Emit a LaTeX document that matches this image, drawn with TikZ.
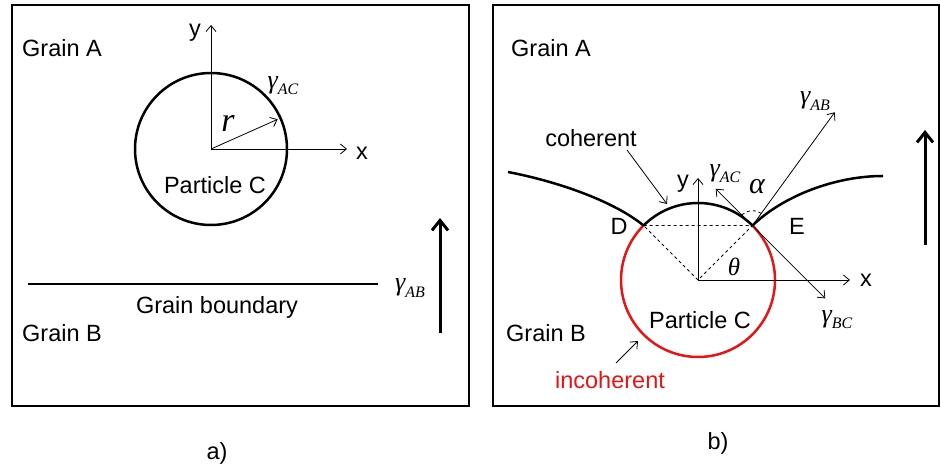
\documentclass[tikz,border=0pt]{standalone}
\usepackage{fontspec}
\setmainfont{Liberation Sans}
\newfontfamily\symfont{Liberation Serif}
\usetikzlibrary{arrows.meta, calc}

\definecolor{incred}{RGB}{230,20,20}

% surface tension label, e.g. \tens{AB}
\newcommand{\tens}[1]{{\symfont\itshape γ}\raisebox{-0.45ex}{\fontsize{16}{16}\selectfont\symfont\itshape #1}}

\tikzset{
  frame/.style={line width=2pt},
  boundary/.style={line width=2.5pt},
  thinarrow/.style={-{Straight Barb[length=6pt,width=10pt]}, line width=0.8pt},
  bigarrow/.style={-{Straight Barb[length=10pt,width=16pt]}, line width=3pt},
  lbl/.style={font=\fontsize{23.5}{27}\selectfont, inner sep=0pt},
  glbl/.style={font=\fontsize{26}{28}\selectfont, inner sep=0pt},
  symlbl/.style={font=\fontsize{#1}{#1}\selectfont\symfont\itshape, inner sep=0pt},
}

\begin{document}
\begin{tikzpicture}[x=1pt, y=1pt]
    \useasboundingbox (0,0) rectangle (941,470);

    % ---- a) ----
    \draw[frame] (12,64) rectangle (469,465);
    \coordinate (Ca) at (211,321);
    \draw[boundary] (Ca) circle (76pt);
    % axes
    \coordinate (ya) at (211,445);
    \coordinate (xa) at (347,321);
    \coordinate (ra) at ([shift={(24:73)}]Ca);
    \draw[thinarrow] (Ca) -- (ya);
    \draw[thinarrow] (Ca) -- (xa);
    \draw[thinarrow] (Ca) -- (ra);
    \node[lbl] (ylaba) at (195,437) {y};
    \node[lbl] (xlaba) at (362,317) {x};
    \node[symlbl=34] (rlab) at (228,347) {r};
    \node[glbl] (gACa) at (283,384) {\tens{AC}};
    \node[lbl] (parta) at (215,285) {Particle C};
    \node[lbl, anchor=west] (grainAa) at (22,422) {Grain A};
    \node[lbl, anchor=west] (grainBa) at (22,137) {Grain B};

    % grain boundary
    \coordinate (gb1) at (28,186);
    \coordinate (gb2) at (378,186);
    \draw[boundary] (gb1) -- (gb2);
    \node[lbl] (gbtxt) at (217,163) {Grain boundary};
    \node[glbl] (gABa) at (410,182) {\tens{AB}};
    \coordinate (ta1) at (440,137);
    \coordinate (ta2) at (440,252);
    \draw[bigarrow] (ta1) -- (ta2);
    \node[lbl] (capa) at (217,17) {a)};

    % ---- b) ----
    \draw[frame] (493,64) rectangle (939,465);
    \coordinate (Cb) at (698,190);
    \coordinate (D) at ([shift={(135:77)}]Cb);
    \coordinate (E) at ([shift={(45:77)}]Cb);
    % incoherent and coherent parts
    \draw[incred, boundary] (E) arc[start angle=45, end angle=-225, radius=77pt];
    \draw[boundary] (E) arc[start angle=45, end angle=135, radius=77pt];
    % curved grain boundary
    \coordinate (gl) at (508,298);
    \coordinate (gr) at (883,294);
    \draw[boundary] (gl) .. controls (560,288) and (615,268) .. (D);
    \draw[boundary] (E) .. controls (783,274) and (835,294) .. (gr);
    % construction lines
    \draw[dashed, line width=0.8pt] (D) -- (E) -- (Cb) -- cycle;
    \coordinate (yb) at (698,292);
    \coordinate (xb) at (850,190);
    \draw[thinarrow] (Cb) -- (yb);
    \draw[thinarrow] (Cb) -- (xb);
    \node[lbl] (ylabb) at (683,286) {y};
    \node[lbl] (xlabb) at (866,190) {x};
    \node[lbl] (Dlab) at (619,244) {D};
    \node[lbl] (Elab) at (797,244) {E};
    \node[symlbl=25] (thlab) at (734,203) {θ};

    % tensions at E
    \coordinate (tAB) at ([shift={(54:140)}]E);
    \coordinate (tAC) at ([shift={(135:52)}]E);
    \coordinate (tBC) at ([shift={(-45:103)}]E);
    \draw[thinarrow] (E) -- (tAB);
    \draw[thinarrow] (E) -- (tAC);
    \draw[thinarrow] (E) -- (tBC);
    \draw[dashed, line width=0.8pt] ([shift={(54:15)}]E) arc[start angle=54, end angle=135, radius=15pt];
    \node[symlbl=30] (alab) at (757,283) {α};
    \node[glbl] (gABb) at (815,369) {\tens{AB}};
    \node[glbl] (gACb) at (725,296) {\tens{AC}};
    \node[glbl] (gBCb) at (837,150) {\tens{BC}};

    \node[lbl] (partb) at (700,150) {Particle C};
    \node[lbl, anchor=west] (grainAb) at (511,422) {Grain A};
    \node[lbl, anchor=west] (grainBb) at (506,137) {Grain B};

    % coherent / incoherent pointers
    \node[lbl] (coh) at (591,332) {coherent};
    \coordinate (cohs) at (627,320);
    \coordinate (cohe) at (667,266);
    \draw[thinarrow] (cohs) -- (cohe);
    \node[lbl, text=incred] (incoh) at (610,90) {incoherent};
    \coordinate (incs) at (616,107);
    \coordinate (ince) at (638,129);
    \draw[thinarrow] (incs) -- (ince);

    \coordinate (tb1) at (925,225);
    \coordinate (tb2) at (925,340);
    \draw[bigarrow] (tb1) -- (tb2);
    \node[lbl] (capb) at (718,27) {b)};
\end{tikzpicture}
\end{document}
